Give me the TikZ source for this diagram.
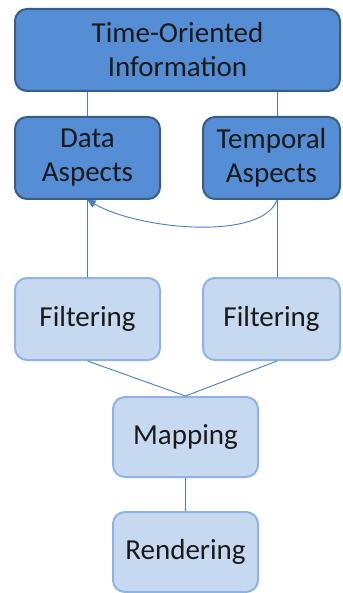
\documentclass[tikz,border=0pt]{standalone}
\usepackage{fontspec}
\setmainfont{Carlito}
\usetikzlibrary{arrows.meta}
\definecolor{darkfill}{HTML}{558ED5}
\definecolor{darkedge}{HTML}{385D8A}
\definecolor{lightfill}{HTML}{C6D9F1}
\definecolor{lightedge}{HTML}{8EB4E3}
\definecolor{linkcol}{HTML}{4A7EBB}
\definecolor{txt}{HTML}{1A1A1A}
\tikzset{
  box/.style={rounded corners=12pt, line width=2pt, align=center, text=txt,
    font=\fontsize{29}{34}\selectfont, inner sep=0pt},
  darkbox/.style={box, fill=darkfill, draw=darkedge},
  lightbox/.style={box, fill=lightfill, draw=lightedge},
  link/.style={draw=linkcol, line width=0.9pt},
}
\begin{document}
\begin{tikzpicture}[x=1pt, y=1pt]
  \useasboundingbox (0,0) rectangle (342,-593);
  \coordinate (tx) at (277,0);
  % upper level: the information and its two aspects
  \node[darkbox, minimum width=325pt, minimum height=82pt] (top) at (177.5,-50) {Time-Oriented\\Information};
  \node[darkbox, minimum width=145pt, minimum height=82pt] (data) at (87.5,-158) {Data\\Aspects};
  \node[darkbox, minimum width=137pt, minimum height=82pt] (temporal) at (271.5,-158) {Temporal\\Aspects};
  % pipeline stages
  \node[lightbox, minimum width=145pt, minimum height=82pt] (lfilter) at (87.5,-319) {Filtering};
  \node[lightbox, minimum width=137pt, minimum height=82pt] (rfilter) at (271.5,-319) {Filtering};
  \node[lightbox, minimum width=145pt, minimum height=80pt] (mapping) at (185.5,-437) {Mapping};
  \node[lightbox, minimum width=145pt, minimum height=80pt] (rendering) at (185.5,-552) {Rendering};
  % connectors
  \draw[link] (data.north) -- (data.north |- top.south);
  \draw[link] (temporal.north -| tx) -- (top.south -| tx);
  \draw[link] (lfilter.north) -- (data.south);
  \draw[link] (rfilter.north -| tx) -- (temporal.south -| tx);
  \draw[link, -{Triangle[length=8pt, width=8pt]}]
    (temporal.south -| tx) .. controls +(-15,-41) and +(52,-30) .. (data.south);
  \draw[link] (lfilter.south) -- (mapping.north);
  \draw[link] (rfilter.south -| tx) -- (mapping.north);
  \draw[link] (mapping.south) -- (rendering.north);
\end{tikzpicture}
\end{document}
